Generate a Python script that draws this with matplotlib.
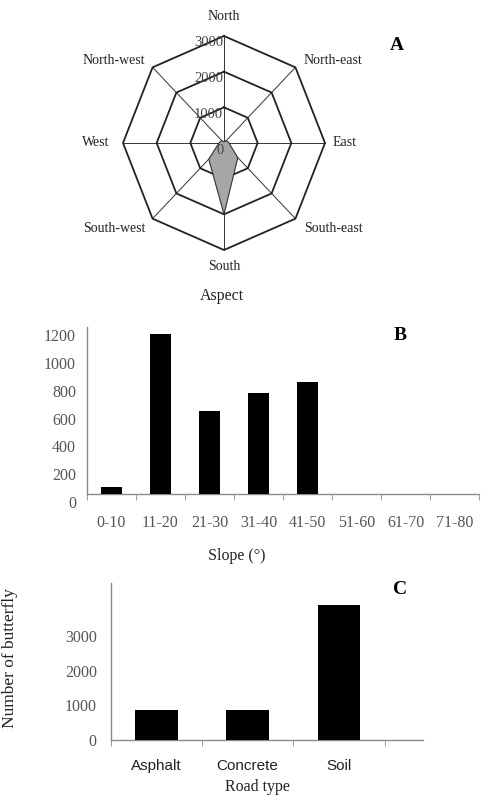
import numpy as np
import matplotlib
matplotlib.use("Agg")
import matplotlib.pyplot as plt
import matplotlib.transforms as mtransforms

# ---------------- data ----------------
directions = ["North", "North-east", "East", "South-east", "South", "South-west", "West", "North-west"]
aspect_counts = [30, 100, 150, 580, 2000, 640, 150, 100]
aspect_rings = [1000, 2000, 3000]

slope_classes = ["0-10", "11-20", "21-30", "31-40", "41-50", "51-60", "61-70", "71-80"]
slope_counts = [52, 1148, 597, 728, 807, 0, 0, 0]
slope_yticks = [0, 200, 400, 600, 800, 1000, 1200]

road_types = ["Asphalt", "Concrete", "Soil"]
road_counts = [865, 865, 3890]
road_yticks = [0, 1000, 2000, 3000]

W, H = 487, 802
DPI = 100
SERIF = ["Liberation Serif", "DejaVu Serif"]
SANS = ["Liberation Sans", "DejaVu Sans"]
TICKC = "#555555"
AXC = "#8a8a8a"

fig = plt.figure(figsize=(W / DPI, H / DPI), dpi=DPI)


def fx(px):
    return px / W


def fy(py):
    return 1 - py / H


def ax_rect(l, t, r, b):
    return [fx(l), fy(b), fx(r) - fx(l), (b - t) / H]


# ---------------- Panel A: radar ----------------
cx, cy = 224, 143
sx, sy = 101 / 3000, 107 / 3000
L, T, R, B = 40, 0, 410, 310
axA = fig.add_axes(ax_rect(L, T, R, B))
axA.set_xlim((L - cx) / sx, (R - cx) / sx)
axA.set_ylim(-(B - cy) / sy, (cy - T) / sy)
axA.axis("off")

n = len(directions)
ang = np.pi / 2 - np.arange(n) * 2 * np.pi / n
ux, uy = np.cos(ang), np.sin(ang)
rmax = aspect_rings[-1]
for i in range(n):
    axA.plot([0, rmax * ux[i]], [0, rmax * uy[i]], color="#333333", lw=0.7, zorder=1)
for k, r in enumerate(aspect_rings):
    xs = np.append(r * ux, r * ux[0])
    ys = np.append(r * uy, r * uy[0])
    axA.plot(xs, ys, color="#222222", lw=1.3, zorder=2)

vals = np.array(aspect_counts, dtype=float)
px_ = np.append(vals * ux, vals[0] * ux[0])
py_ = np.append(vals * uy, vals[0] * uy[0])
axA.fill(px_, py_, facecolor="#a6a6a6", edgecolor="#333333", lw=0.8, zorder=3)

for r in [0] + aspect_rings:
    axA.text(-20, r - 7 / sy, f"{r}", ha="right", va="center",
             fontsize=10.5, family=SERIF, color="#444444", zorder=4)

lab_pos = {
    "North": (0, (cy - 17) / sy),
    "North-east": ((333 - cx) / sx, (cy - 60) / sy),
    "East": ((345 - cx) / sx, 0),
    "South-east": ((333 - cx) / sx, (cy - 229) / sy),
    "South": (0, (cy - 266) / sy),
    "South-west": ((114 - cx) / sx, (cy - 229) / sy),
    "West": ((96 - cx) / sx, 0),
    "North-west": ((114 - cx) / sx, (cy - 60) / sy),
}
for d in directions:
    x, y = lab_pos[d]
    axA.text(x, y, d, ha="center", va="center", fontsize=10, family=SERIF, color="#222222")

fig.text(fx(222), fy(296), "Aspect", ha="center", va="center", fontsize=11.5, family=SERIF, color="#222222")
fig.text(fx(397), fy(46), "A", ha="center", va="center", fontsize=14, family=SERIF, weight="bold")

# ---------------- Panel B: slope ----------------
axB = fig.add_axes(ax_rect(87, 327, 479, 494))
xB = np.arange(len(slope_classes))
axB.bar(xB, slope_counts, width=0.44, color="black", zorder=3)
axB.set_xlim(-0.5, len(slope_classes) - 0.5)
axB.set_ylim(0, 1200)
for s in ["top", "right"]:
    axB.spines[s].set_visible(False)
for s in ["left", "bottom"]:
    axB.spines[s].set_color(AXC)
    axB.spines[s].set_linewidth(1.0)
axB.set_yticks(slope_yticks)
axB.set_yticklabels([str(v) for v in slope_yticks], family=SERIF, fontsize=11.5, color=TICKC)
axB.tick_params(axis="y", length=0, pad=8)
off = mtransforms.ScaledTranslation(0, -8 / DPI, fig.dpi_scale_trans)
for lbl in axB.get_yticklabels():
    lbl.set_transform(lbl.get_transform() + off)
axB.set_xticks(xB)
axB.set_xticklabels(slope_classes, family=SERIF, fontsize=11.5, color=TICKC)
axB.tick_params(axis="x", which="major", length=0, pad=15)
axB.set_xticks(np.arange(len(slope_classes) + 1) - 0.5, minor=True)
axB.tick_params(axis="x", which="minor", length=4, direction="out", color=AXC)

fig.text(fx(237), fy(556), "Slope (°)", ha="center", va="center", fontsize=11.5, family=SERIF, color="#222222")
fig.text(fx(400), fy(335), "B", ha="center", va="center", fontsize=14, family=SERIF, weight="bold")

# ---------------- Panel C: road type ----------------
axC = fig.add_axes(ax_rect(110.7, 583, 423, 740))
xC = np.arange(len(road_types))
axC.bar(xC, road_counts, width=0.47, color="black", zorder=3)
axC.set_xlim(-0.5, len(road_types) - 0.5 + 0.42)
axC.set_ylim(0, 4525)
for s in ["top", "right"]:
    axC.spines[s].set_visible(False)
for s in ["left", "bottom"]:
    axC.spines[s].set_color(AXC)
    axC.spines[s].set_linewidth(1.0)
axC.set_yticks(road_yticks)
axC.set_yticklabels([str(v) for v in road_yticks], family=SERIF, fontsize=11.5, color=TICKC)
axC.tick_params(axis="y", length=0, pad=10)
axC.set_xticks(xC)
axC.set_xticklabels(road_types, family=SANS, fontsize=11, color="#222222")
axC.tick_params(axis="x", which="major", length=0, pad=14)
axC.set_xticks(np.arange(len(road_types) + 1) - 0.5, minor=True)
axC.tick_params(axis="x", which="minor", length=4, direction="out", color=AXC)

fig.text(fx(257), fy(787), "Road type", ha="center", va="center", fontsize=11.5, family=SERIF, color="#222222")
fig.text(fx(400), fy(589), "C", ha="center", va="center", fontsize=14, family=SERIF, weight="bold")
fig.text(fx(10), fy(658), "Number of butterfly", ha="center", va="center", rotation=90,
         fontsize=12.5, family=SERIF, color="#222222")

fig.savefig("out.png", dpi=DPI)
